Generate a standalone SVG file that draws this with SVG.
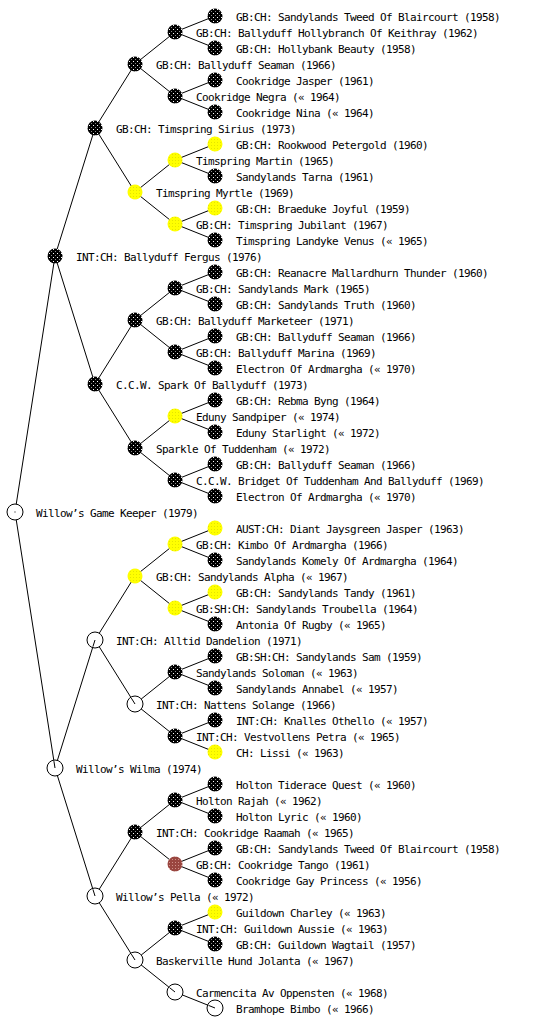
<svg xmlns="http://www.w3.org/2000/svg" width="560" height="1024" viewBox="0 0 560 1024">
<style>
.t{font-family:"DejaVu Sans Mono","Liberation Mono",monospace;font-size:11px;letter-spacing:-0.62px;fill:#000}
.b{fill:url(#pb)}
.y{fill:url(#py)}
.r{fill:url(#pr)}
.w{fill:#fff;stroke:#000;stroke-width:1}
.k{stroke:#000;stroke-width:1;fill:none}
</style>
<defs>
<pattern id="pb" width="4" height="4" patternUnits="userSpaceOnUse"><rect width="4" height="4" fill="#000"/><rect x="1" y="1" width="1" height="1" fill="#fff"/><rect x="3" y="3" width="1" height="1" fill="#888"/></pattern>
<pattern id="py" width="3" height="3" patternUnits="userSpaceOnUse"><rect width="3" height="3" fill="#ffff00"/><rect x="1" y="1" width="1" height="1" fill="#e4e400"/></pattern>
<pattern id="pr" width="3" height="3" patternUnits="userSpaceOnUse"><rect width="3" height="3" fill="#9a4640"/><rect x="1" y="1" width="1" height="1" fill="#d09088"/></pattern>
</defs>
<rect width="560" height="1024" fill="#fff"/>
<g id="connectors" class="k">
<path d="M15,512L55,256M15,512L55,768
M55,256L95,128M55,256L95,384
M95,128L135,64M95,128L135,192
M135,64L175,32M135,64L175,96
M175,32L215,16M175,32L215,48
M175,96L215,80M175,96L215,112
M135,192L175,160M135,192L175,224
M175,160L215,144M175,160L215,176
M175,224L215,208M175,224L215,240
M95,384L135,320M95,384L135,448
M135,320L175,288M135,320L175,352
M175,288L215,272M175,288L215,304
M175,352L215,336M175,352L215,368
M135,448L175,416M135,448L175,480
M175,416L215,400M175,416L215,432
M175,480L215,464M175,480L215,496
M55,768L95,640M55,768L95,896
M95,640L135,576M95,640L135,704
M135,576L175,544M135,576L175,608
M175,544L215,528M175,544L215,560
M175,608L215,592M175,608L215,624
M135,704L175,672M135,704L175,736
M175,672L215,656M175,672L215,688
M175,736L215,720M175,736L215,752
M95,896L135,832M95,896L135,960
M135,832L175,800M135,832L175,864
M175,800L215,784M175,800L215,816
M175,864L215,848M175,864L215,880
M135,960L175,928M135,960L175,992
M175,928L215,912M175,928L215,944
M175,992L215,1008"/>
</g>
<g id="n-gamekeeper"><circle class="w" cx="15" cy="512" r="8"/><rect x="14.5" y="511.5" width="1" height="1" fill="#000"/><text class="t" x="36" y="516.5">Willow’s Game Keeper (1979)</text></g>
<g id="n-fergus"><circle class="b" cx="55" cy="256" r="7.5"/><text class="t" x="76" y="260.5">INT:CH: Ballyduff Fergus (1976)</text></g>
<g id="n-sirius"><circle class="b" cx="95" cy="128" r="7.5"/><text class="t" x="116" y="132.5">GB:CH: Timspring Sirius (1973)</text></g>
<g id="n-seaman1"><circle class="b" cx="135" cy="64" r="7.5"/><text class="t" x="156" y="68.5">GB:CH: Ballyduff Seaman (1966)</text></g>
<g id="n-hollybranch"><circle class="b" cx="175" cy="32" r="7.5"/><text class="t" x="196" y="36.5">GB:CH: Ballyduff Hollybranch Of Keithray (1962)</text></g>
<g id="n-tweed1"><circle class="b" cx="215" cy="16" r="7.5"/><text class="t" x="236" y="20.5">GB:CH: Sandylands Tweed Of Blaircourt (1958)</text></g>
<g id="n-hollybank"><circle class="b" cx="215" cy="48" r="7.5"/><text class="t" x="236" y="52.5">GB:CH: Hollybank Beauty (1958)</text></g>
<g id="n-negra"><circle class="b" cx="175" cy="96" r="7.5"/><text class="t" x="196" y="100.5">Cookridge Negra (« 1964)</text></g>
<g id="n-jasper"><circle class="b" cx="215" cy="80" r="7.5"/><text class="t" x="236" y="84.5">Cookridge Jasper (1961)</text></g>
<g id="n-nina"><circle class="b" cx="215" cy="112" r="7.5"/><text class="t" x="236" y="116.5">Cookridge Nina (« 1964)</text></g>
<g id="n-myrtle"><circle class="y" cx="135" cy="192" r="7.5"/><text class="t" x="156" y="196.5">Timspring Myrtle (1969)</text></g>
<g id="n-martin"><circle class="y" cx="175" cy="160" r="7.5"/><text class="t" x="196" y="164.5">Timspring Martin (1965)</text></g>
<g id="n-petergold"><circle class="y" cx="215" cy="144" r="7.5"/><text class="t" x="236" y="148.5">GB:CH: Rookwood Petergold (1960)</text></g>
<g id="n-tarna"><circle class="b" cx="215" cy="176" r="7.5"/><text class="t" x="236" y="180.5">Sandylands Tarna (1961)</text></g>
<g id="n-jubilant"><circle class="y" cx="175" cy="224" r="7.5"/><text class="t" x="196" y="228.5">GB:CH: Timspring Jubilant (1967)</text></g>
<g id="n-joyful"><circle class="y" cx="215" cy="208" r="7.5"/><text class="t" x="236" y="212.5">GB:CH: Braeduke Joyful (1959)</text></g>
<g id="n-venus"><circle class="b" cx="215" cy="240" r="7.5"/><text class="t" x="236" y="244.5">Timspring Landyke Venus (« 1965)</text></g>
<g id="n-spark"><circle class="b" cx="95" cy="384" r="7.5"/><text class="t" x="116" y="388.5">C.C.W. Spark Of Ballyduff (1973)</text></g>
<g id="n-marketeer"><circle class="b" cx="135" cy="320" r="7.5"/><text class="t" x="156" y="324.5">GB:CH: Ballyduff Marketeer (1971)</text></g>
<g id="n-mark"><circle class="b" cx="175" cy="288" r="7.5"/><text class="t" x="196" y="292.5">GB:CH: Sandylands Mark (1965)</text></g>
<g id="n-thunder"><circle class="b" cx="215" cy="272" r="7.5"/><text class="t" x="236" y="276.5">GB:CH: Reanacre Mallardhurn Thunder (1960)</text></g>
<g id="n-truth"><circle class="b" cx="215" cy="304" r="7.5"/><text class="t" x="236" y="308.5">GB:CH: Sandylands Truth (1960)</text></g>
<g id="n-marina"><circle class="b" cx="175" cy="352" r="7.5"/><text class="t" x="196" y="356.5">GB:CH: Ballyduff Marina (1969)</text></g>
<g id="n-seaman2"><circle class="b" cx="215" cy="336" r="7.5"/><text class="t" x="236" y="340.5">GB:CH: Ballyduff Seaman (1966)</text></g>
<g id="n-electron1"><circle class="b" cx="215" cy="368" r="7.5"/><text class="t" x="236" y="372.5">Electron Of Ardmargha (« 1970)</text></g>
<g id="n-sparkle"><circle class="b" cx="135" cy="448" r="7.5"/><text class="t" x="156" y="452.5">Sparkle Of Tuddenham (« 1972)</text></g>
<g id="n-sandpiper"><circle class="y" cx="175" cy="416" r="7.5"/><text class="t" x="196" y="420.5">Eduny Sandpiper (« 1974)</text></g>
<g id="n-byng"><circle class="b" cx="215" cy="400" r="7.5"/><text class="t" x="236" y="404.5">GB:CH: Rebma Byng (1964)</text></g>
<g id="n-starlight"><circle class="b" cx="215" cy="432" r="7.5"/><text class="t" x="236" y="436.5">Eduny Starlight (« 1972)</text></g>
<g id="n-bridget"><circle class="b" cx="175" cy="480" r="7.5"/><text class="t" x="196" y="484.5">C.C.W. Bridget Of Tuddenham And Ballyduff (1969)</text></g>
<g id="n-seaman3"><circle class="b" cx="215" cy="464" r="7.5"/><text class="t" x="236" y="468.5">GB:CH: Ballyduff Seaman (1966)</text></g>
<g id="n-electron2"><circle class="b" cx="215" cy="496" r="7.5"/><text class="t" x="236" y="500.5">Electron Of Ardmargha (« 1970)</text></g>
<g id="n-wilma"><circle class="w" cx="55" cy="768" r="8"/><line class="k" x1="55" y1="768" x2="53.9" y2="761.1"/><text class="t" x="76" y="772.5">Willow’s Wilma (1974)</text></g>
<g id="n-dandelion"><circle class="w" cx="95" cy="640" r="8"/><line class="k" x1="95" y1="640" x2="92.9" y2="646.7"/><text class="t" x="116" y="644.5">INT:CH: Alltid Dandelion (1971)</text></g>
<g id="n-alpha"><circle class="y" cx="135" cy="576" r="7.5"/><text class="t" x="156" y="580.5">GB:CH: Sandylands Alpha (« 1967)</text></g>
<g id="n-kimbo"><circle class="y" cx="175" cy="544" r="7.5"/><text class="t" x="196" y="548.5">GB:CH: Kimbo Of Ardmargha (1966)</text></g>
<g id="n-diant"><circle class="y" cx="215" cy="528" r="7.5"/><text class="t" x="236" y="532.5">AUST:CH: Diant Jaysgreen Jasper (1963)</text></g>
<g id="n-komely"><circle class="b" cx="215" cy="560" r="7.5"/><text class="t" x="236" y="564.5">Sandylands Komely Of Ardmargha (1964)</text></g>
<g id="n-troubella"><circle class="y" cx="175" cy="608" r="7.5"/><text class="t" x="196" y="612.5">GB:SH:CH: Sandylands Troubella (1964)</text></g>
<g id="n-tandy"><circle class="y" cx="215" cy="592" r="7.5"/><text class="t" x="236" y="596.5">GB:CH: Sandylands Tandy (1961)</text></g>
<g id="n-antonia"><circle class="b" cx="215" cy="624" r="7.5"/><text class="t" x="236" y="628.5">Antonia Of Rugby (« 1965)</text></g>
<g id="n-solange"><circle class="w" cx="135" cy="704" r="8"/><line class="k" x1="135" y1="704" x2="131.3" y2="698.1"/><text class="t" x="156" y="708.5">INT:CH: Nattens Solange (1966)</text></g>
<g id="n-soloman"><circle class="b" cx="175" cy="672" r="7.5"/><text class="t" x="196" y="676.5">Sandylands Soloman (« 1963)</text></g>
<g id="n-sam"><circle class="b" cx="215" cy="656" r="7.5"/><text class="t" x="236" y="660.5">GB:SH:CH: Sandylands Sam (1959)</text></g>
<g id="n-annabel"><circle class="b" cx="215" cy="688" r="7.5"/><text class="t" x="236" y="692.5">Sandylands Annabel (« 1957)</text></g>
<g id="n-petra"><circle class="b" cx="175" cy="736" r="7.5"/><text class="t" x="196" y="740.5">INT:CH: Vestvollens Petra (« 1965)</text></g>
<g id="n-othello"><circle class="b" cx="215" cy="720" r="7.5"/><text class="t" x="236" y="724.5">INT:CH: Knalles Othello (« 1957)</text></g>
<g id="n-lissi"><circle class="y" cx="215" cy="752" r="7.5"/><text class="t" x="236" y="756.5">CH: Lissi (« 1963)</text></g>
<g id="n-pella"><circle class="w" cx="95" cy="896" r="8"/><line class="k" x1="95" y1="896" x2="92.9" y2="889.3"/><text class="t" x="116" y="900.5">Willow’s Pella (« 1972)</text></g>
<g id="n-raamah"><circle class="b" cx="135" cy="832" r="7.5"/><text class="t" x="156" y="836.5">INT:CH: Cookridge Raamah (« 1965)</text></g>
<g id="n-rajah"><circle class="b" cx="175" cy="800" r="7.5"/><text class="t" x="196" y="804.5">Holton Rajah (« 1962)</text></g>
<g id="n-tiderace"><circle class="b" cx="215" cy="784" r="7.5"/><text class="t" x="236" y="788.5">Holton Tiderace Quest (« 1960)</text></g>
<g id="n-lyric"><circle class="b" cx="215" cy="816" r="7.5"/><text class="t" x="236" y="820.5">Holton Lyric (« 1960)</text></g>
<g id="n-tango"><circle class="r" cx="175" cy="864" r="7.5"/><text class="t" x="196" y="868.5">GB:CH: Cookridge Tango (1961)</text></g>
<g id="n-tweed2"><circle class="b" cx="215" cy="848" r="7.5"/><text class="t" x="236" y="852.5">GB:CH: Sandylands Tweed Of Blaircourt (1958)</text></g>
<g id="n-princess"><circle class="b" cx="215" cy="880" r="7.5"/><text class="t" x="236" y="884.5">Cookridge Gay Princess (« 1956)</text></g>
<g id="n-jolanta"><circle class="w" cx="135" cy="960" r="8"/><line class="k" x1="135" y1="960" x2="131.3" y2="954.1"/><text class="t" x="156" y="964.5">Baskerville Hund Jolanta (« 1967)</text></g>
<g id="n-aussie"><circle class="b" cx="175" cy="928" r="7.5"/><text class="t" x="196" y="932.5">INT:CH: Guildown Aussie (« 1963)</text></g>
<g id="n-charley"><circle class="y" cx="215" cy="912" r="7.5"/><text class="t" x="236" y="916.5">Guildown Charley (« 1963)</text></g>
<g id="n-wagtail"><circle class="b" cx="215" cy="944" r="7.5"/><text class="t" x="236" y="948.5">GB:CH: Guildown Wagtail (1957)</text></g>
<g id="n-carmencita"><circle class="w" cx="175" cy="992" r="8"/><line class="k" x1="175" y1="992" x2="169.5" y2="987.6"/><text class="t" x="196" y="996.5">Carmencita Av Oppensten (« 1968)</text></g>
<g id="n-bimbo"><circle class="w" cx="215" cy="1008" r="8"/><line class="k" x1="215" y1="1008" x2="208.5" y2="1005.4"/><text class="t" x="236" y="1012.5">Bramhope Bimbo (« 1966)</text></g>
</svg>
